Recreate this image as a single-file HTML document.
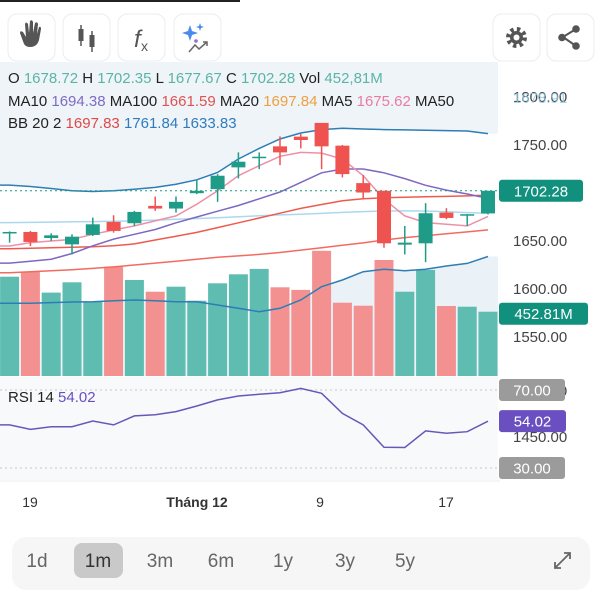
<!DOCTYPE html>
<html><head><meta charset="utf-8">
<style>
html,body{margin:0;padding:0;background:#fff;width:600px;height:600px;overflow:hidden;font-family:"Liberation Sans",sans-serif;}
svg text{font-family:"Liberation Sans",sans-serif;}
</style></head>
<body>
<svg id="chart" width="600" height="600" viewBox="0 0 600 600" xmlns="http://www.w3.org/2000/svg">
  <rect x="0" y="0" width="240" height="2" fill="#222"/>
  <!-- toolbar -->
  <g>
    <g>
      <rect x="8" y="14" width="47" height="47" rx="9" fill="#fff" stroke="#ececec"/>
      <path d="M24 44 L20 33 Q20 30 23 32 L26 37 L25 24 Q26 21 28 24 L29 33 L30 21 Q32 19 33 22 L33 33 L35 23 Q37 21 38 24 L37 34 L39 27 Q41 26 41 29 L39 40 Q37 47 30 47 Q26 47 24 44Z" fill="#555"/>
    </g>
    <g>
      <rect x="63" y="14" width="47" height="47" rx="9" fill="#fff" stroke="#ececec"/>
      <line x1="81" y1="25" x2="81" y2="46" stroke="#555" stroke-width="1.5"/>
      <rect x="78.5" y="29" width="5" height="12" fill="#555"/>
      <line x1="92" y1="31" x2="92" y2="52" stroke="#555" stroke-width="1.5"/>
      <rect x="89.5" y="35" width="5" height="12" fill="#555"/>
    </g>
    <g>
      <rect x="118" y="14" width="47" height="47" rx="9" fill="#fff" stroke="#ececec"/>
      <text x="134" y="47" font-size="24" fill="#555" font-style="italic" font-family="Liberation Serif">f</text>
      <text x="141" y="51" font-size="14" fill="#555">x</text>
    </g>
    <g>
      <rect x="174" y="14" width="47" height="47" rx="9" fill="#fff" stroke="#ececec"/>
      <path d="M190 25 L192 31 L198 33 L192 35 L190 41 L188 35 L182 33 L188 31Z" fill="#4a8ae8"/>
      <path d="M200 23 L201 26 L204 27 L201 28 L200 31 L199 28 L196 27 L199 26Z" fill="#4a8ae8"/>
      <circle cx="196" cy="41" r="1.8" fill="#9b6ad8"/>
      <polyline points="189,52 195,45 199,49 207,42" fill="none" stroke="#666" stroke-width="1.5"/>
      <polyline points="203,42 207,42 207,46" fill="none" stroke="#666" stroke-width="1.5"/>
    </g>
    <g>
      <rect x="493" y="14" width="47" height="47" rx="9" fill="#fff" stroke="#ececec"/>
      <circle cx="516.5" cy="37.5" r="8" fill="none" stroke="#555" stroke-width="5" stroke-dasharray="3.2 3.1"/>
      <circle cx="516.5" cy="37.5" r="6.5" fill="#555"/>
      <circle cx="516.5" cy="37.5" r="3" fill="#fff"/>
    </g>
    <g>
      <rect x="547" y="14" width="47" height="47" rx="9" fill="#fff" stroke="#ececec"/>
      <line x1="576" y1="29" x2="563" y2="37" stroke="#555" stroke-width="2"/>
      <line x1="563" y1="37" x2="576" y2="46" stroke="#555" stroke-width="2"/>
      <circle cx="576" cy="29" r="3.8" fill="#555"/>
      <circle cx="562" cy="37.5" r="3.8" fill="#555"/>
      <circle cx="576" cy="46" r="3.8" fill="#555"/>
    </g>
  </g>
  <g id="plot"></g>
  <!-- legend -->
  <g font-size="15">
    <text x="8" y="83"><tspan fill="#222">O </tspan><tspan fill="#5ab5a6">1678.72 </tspan><tspan fill="#222">H </tspan><tspan fill="#5ab5a6">1702.35 </tspan><tspan fill="#222">L </tspan><tspan fill="#5ab5a6">1677.67 </tspan><tspan fill="#222">C </tspan><tspan fill="#5ab5a6">1702.28 </tspan><tspan fill="#222">Vol </tspan><tspan fill="#5ab5a6">452,81M</tspan></text>
    <text x="8" y="106"><tspan fill="#222">MA10 </tspan><tspan fill="#7e6bc4">1694.38 </tspan><tspan fill="#222">MA100 </tspan><tspan fill="#e0524f">1661.59 </tspan><tspan fill="#222">MA20 </tspan><tspan fill="#eea040">1697.84 </tspan><tspan fill="#222">MA5 </tspan><tspan fill="#e87ca0">1675.62 </tspan><tspan fill="#222">MA50</tspan></text>
    <text x="8" y="128"><tspan fill="#222">BB 20 2 </tspan><tspan fill="#e04848">1697.83 </tspan><tspan fill="#2f7bbf">1761.84 </tspan><tspan fill="#2f7bbf">1633.83</tspan></text>
  </g>
  <g id="axis"></g>
  <!-- x axis -->
  <line x1="0" y1="481" x2="500" y2="481" stroke="#eee"/>
  <g font-size="14" fill="#333">
    <text x="30" y="507" text-anchor="middle">19</text>
    <text x="197" y="507" text-anchor="middle" font-weight="bold">Tháng 12</text>
    <text x="320" y="507" text-anchor="middle">9</text>
    <text x="446" y="507" text-anchor="middle">17</text>
  </g>
  <!-- range bar -->
  <g font-size="19" fill="#666">
    <rect x="12" y="537" width="578" height="53" rx="14" fill="#f6f6f6"/>
    <rect x="74" y="543" width="49" height="35" rx="8" fill="#c9c9c9"/>
    <text x="37" y="567" text-anchor="middle">1d</text>
    <text x="98" y="567" text-anchor="middle" fill="#333">1m</text>
    <text x="160" y="567" text-anchor="middle">3m</text>
    <text x="221" y="567" text-anchor="middle">6m</text>
    <text x="283" y="567" text-anchor="middle">1y</text>
    <text x="345" y="567" text-anchor="middle">3y</text>
    <text x="405" y="567" text-anchor="middle">5y</text>
    <g stroke="#666" stroke-width="1.8" fill="none">
      <line x1="555" y1="568" x2="570" y2="553"/>
      <polyline points="564,553 570,553 570,559"/>
      <polyline points="555,562 555,568 561,568"/>
    </g>
  </g>
</svg>
<script>
const opens  = [1658,1659.4,1653.1,1646.5,1656.3,1669.9,1668.5,1686.6,1683.8,1699.8,1704,1726.7,1736.4,1748.6,1758.7,1773,1749.3,1710.3,1702.3,1646.2,1647.6,1679.6,1676.8,1678.72];
const highs  = [1660,1660.5,1658,1657,1674.4,1676.8,1681.4,1696.3,1696.3,1713.8,1719.7,1742.3,1742.3,1759,1761.5,1773,1750,1718.6,1702.3,1665.7,1689.4,1684.2,1677.9,1702.35];
const lows   = [1648.3,1644.8,1650,1636,1655.2,1658.7,1665.7,1681.4,1679.6,1698.8,1690.8,1715.2,1724.9,1729,1746.5,1724.9,1716.2,1693.6,1643,1636,1628,1672.7,1665.7,1677.67];
const closes = [1659.4,1649,1655.9,1654.5,1667.4,1660.5,1680.3,1683.8,1690.8,1702.3,1718,1732.6,1737.8,1742.3,1755.2,1748.6,1719.7,1700.5,1647.6,1648.3,1678.9,1674,1677.9,1702.28];
const volumes = [699,734,587,660,523,770,676,594,629,530,653,716,754,625,606,882,516,495,817,594,747,493,488,452.81];
const bbUpper = [1708.2,1706.8,1704.7,1702.3,1701.6,1702.3,1704,1705.8,1709.2,1713.8,1721.4,1735.4,1746.5,1756.3,1762.5,1766,1767.4,1766.7,1766,1765.7,1765.3,1765,1764.6,1761.84];
const bbLower = [1585.1,1585.1,1585.8,1586.5,1586.8,1587.8,1588.5,1587.8,1586.8,1586.8,1583.3,1579.9,1576.4,1579.9,1588.5,1602.4,1609.4,1618,1620.5,1619.1,1620.5,1624,1626.7,1633.83];
const ma5   = [1644.8,1648.3,1650,1651.7,1657,1661.5,1665.7,1670.9,1676.1,1688.3,1702.3,1718,1728.4,1738.2,1742.3,1741.6,1735.4,1718,1693.6,1676.1,1669.2,1667.4,1665.7,1675.62];
const ma10  = [1627,1629,1631,1637,1645,1652,1657,1662,1669,1675,1681,1687,1694,1701,1711,1721,1725,1725,1721,1715,1708,1703,1699,1694.38];
const ma20  = [1642,1642.5,1643,1643.5,1644,1645,1647,1651,1655,1659,1664,1669,1674,1679,1684,1688,1692,1694,1695,1695.5,1696,1696.5,1697,1697.84];
const ma50  = [1669.2,1669.4,1669.7,1670,1670.2,1670.5,1671,1671.8,1672.6,1673.4,1674.3,1675.3,1676.3,1677.2,1677.9,1678.8,1679.8,1680.6,1681.2,1681.4,1681.2,1680.4,1679.6,1678.9];
const ma100 = [1617,1618,1619,1620,1621.5,1623,1625,1627,1629,1631,1633,1634.5,1636,1638,1640.5,1643,1645.5,1648,1651,1653.5,1655.5,1657.5,1659.5,1661.59];
const rsi   = [52.1,49.8,51.2,51.2,54.1,52.1,56.7,57.3,58.9,61.8,64.9,66.9,67.8,68.6,70.8,68.3,58,52.1,40.6,40.5,49,47.8,48.6,54.02];
const priceTicks = [1800,1750,1650,1600,1550];

const NS = "http://www.w3.org/2000/svg";
const plot = document.getElementById('plot');
const axis = document.getElementById('axis');
const xOf = i => 9.6 + 20.8 * i;
const yP = p => 145 + (1750 - p) * 0.96;
const yV = v => 376 - v * 0.142;
const yR = r => 390 + (70 - r) * 1.95;
function mk(tag, attrs, parent) {
  const e = document.createElementNS(NS, tag);
  for (const k in attrs) e.setAttribute(k, attrs[k]);
  (parent || plot).appendChild(e);
  return e;
}
const n = closes.length;
// clip
const defs = mk('defs', {});
const cp = mk('clipPath', {id: 'pc'}, defs);
mk('rect', {x: 0, y: 62, width: 498, height: 314}, cp);
const g = mk('g', {'clip-path': 'url(#pc)'});


// shading above upper band & below lower band
let up = 'M0,62 L0,' + yP(bbUpper[0]).toFixed(1);
for (let i = 0; i < n; i++) up += ' L' + xOf(i).toFixed(1) + ',' + yP(bbUpper[i]).toFixed(1);
up += ' L498,' + yP(bbUpper[n - 1]).toFixed(1) + ' L498,62 Z';
const sh1 = mk('path', {d: up, fill: '#eef4f8'}, g);


let lo = 'M0,376 L0,' + yP(bbLower[0]).toFixed(1);
for (let i = 0; i < n; i++) lo += ' L' + xOf(i).toFixed(1) + ',' + yP(bbLower[i]).toFixed(1);
lo += ' L498,' + yP(bbLower[n - 1]).toFixed(1) + ' L498,376 Z';
const sh2 = mk('path', {d: lo, fill: '#eaf2f8'}, g);


// volume bars
for (let i = 0; i < n; i++) {
  const upc = closes[i] >= opens[i];
  const r = mk('rect', {x: (xOf(i) - 9.5).toFixed(1), y: yV(volumes[i]).toFixed(1), width: 19, height: (376 - yV(volumes[i])).toFixed(1), fill: upc ? '#5fbcb1' : '#f39191'}, g);
  
  
}
function line(arr, color, name, w) {
  let d = '';
  for (let i = 0; i < n; i++) d += (i ? ' L' : 'M') + xOf(i).toFixed(1) + ',' + yP(arr[i]).toFixed(1);
  const extendL = 'M0,' + yP(arr[0]).toFixed(1) + ' L';
  const p = mk('path', {d: extendL + d.slice(1), fill: 'none', stroke: color, 'stroke-width': w || 1.5}, g);
  
  
}
line(ma100, '#f26b60', 'ma100-line');
line(bbLower, '#2e7db5', 'bb-lower-line');
line(ma50, '#a9d9ef', 'ma50-line');
line(ma20, '#ef5a50', 'ma20-line');
line(ma10, '#7d68c0', 'ma10-line');
line(ma5, '#ee8fa8', 'ma5-line');
line(bbUpper, '#2e7db5', 'bb-upper-line');
// last price dotted
const dl = mk('line', {x1: 0, x2: 498, y1: yP(closes[n - 1]), y2: yP(closes[n - 1]), stroke: '#1a9a84', 'stroke-dasharray': '2 3'}, g);


// candles
for (let i = 0; i < n; i++) {
  const upc = closes[i] >= opens[i];
  const c = upc ? '#1f9c88' : '#ef5350';
  const cg = mk('g', {}, g);
  
  
  mk('line', {x1: xOf(i), x2: xOf(i), y1: yP(highs[i]), y2: yP(lows[i]), stroke: c, 'stroke-width': 1.5}, cg);
  const t = yP(Math.max(opens[i], closes[i])), b = yP(Math.min(opens[i], closes[i]));
  mk('rect', {x: xOf(i) - 7, y: t, width: 14, height: Math.max(1.5, b - t), fill: c}, cg);
}
// RSI pane
const rp = mk('rect', {x: 0, y: 377, width: 498, height: 103, fill: '#f8f9fb'});


[70, 30].forEach(v => {
  const l = mk('line', {x1: 0, x2: 498, y1: yR(v), y2: yR(v), stroke: '#c8c8c8', 'stroke-dasharray': '2 3'});
  
  
});
let rd = 'M0,' + yR(rsi[0]).toFixed(1);
for (let i = 0; i < n; i++) rd += ' L' + xOf(i).toFixed(1) + ',' + yR(rsi[i]).toFixed(1);
const rl = mk('path', {d: rd, fill: 'none', stroke: '#6a56b8', 'stroke-width': 1.5});


const rt = mk('text', {x: 8, y: 402, 'font-size': 15, fill: '#222'});


rt.innerHTML = 'RSI 14 <tspan fill="#6a4fc0">54.02</tspan>';
// price axis labels
priceTicks.forEach(p => {
  const t = mk('text', {x: 513, y: yP(p) + 5, 'font-size': 15, fill: '#444'}, axis);
  
  
  t.textContent = p.toFixed(2);
});
const hid = [[1500, 391], [1450, 437]];
hid.forEach(h => {
  const t = mk('text', {x: 513, y: h[1] + 5, 'font-size': 15, fill: '#444'}, axis);
  
  
  t.textContent = h[0].toFixed(2);
});
const ma50t = mk('text', {x: 513, y: 103, 'font-size': 15, fill: '#8ccbea', opacity: 0.8}, axis);


ma50t.textContent = '1678.91';
function badge(y, w, bg, txt, name) {
  const bgr = mk('g', {}, axis);
  
  
  mk('rect', {x: 499, y: y - 11, width: w, height: 22, rx: 3, fill: bg}, bgr);
  const t = mk('text', {x: 499 + w / 2, y: y + 5.5, 'font-size': 15, fill: '#fff', 'text-anchor': 'middle'}, bgr);
  t.textContent = txt;
}
badge(yP(closes[n - 1]), 84, '#11907d', closes[n - 1].toFixed(2), 'last-price-badge');
badge(yV(volumes[n - 1]) + 2, 89, '#11907d', volumes[n - 1].toFixed(2) + 'M', 'volume-badge');
badge(yR(70), 66, '#9b9b9b', '70.00', 'rsi-70-badge');
badge(yR(rsi[n - 1]), 67, '#6a4fc0', rsi[n - 1].toFixed(2), 'rsi-value-badge');
badge(yR(30), 66, '#9b9b9b', '30.00', 'rsi-30-badge');
</script>
</body></html>
